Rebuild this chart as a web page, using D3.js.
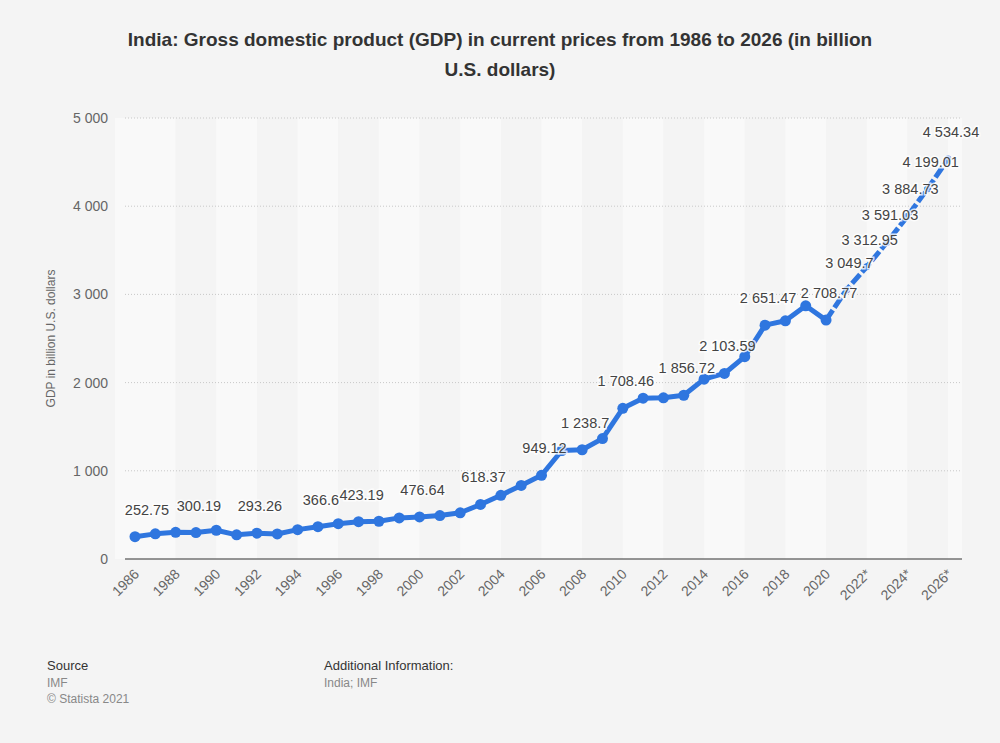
<!DOCTYPE html><html><head><meta charset="utf-8">
<script src="https://cdn.jsdelivr.net/npm/d3@7"></script>
<style>body{margin:0;background:#f4f4f4;font-family:"Liberation Sans",Arial,sans-serif}</style></head><body>
<svg id="c" width="1000" height="743"></svg>
<script>
const years=d3.range(1986,2027);
const yearLabels=years.map(y=>y>=2021?y+"*":""+y);
const values=[252.75,285,303,300.19,326,274,293.26,284,333,366.6,400,423.19,428,466,476.64,493,524,618.37,722,834,949.12,1230,1238.7,1365,1708.46,1823,1828,1856.72,2039,2103.59,2294,2651.47,2701,2871,2708.77,3049.7,3312.95,3591.03,3884.73,4199.01,4534.34];
const labelYears=[1986,1989,1992,1995,1997,2000,2003,2006,2008,2010,2013,2015,2017,2020,2021,2022,2023,2024,2025,2026];
const yTicks=[0,1000,2000,3000,4000,5000];
const svg=d3.select("#c");
const L=115,R=962,T=118,B=559;
const x=d3.scaleLinear().domain([1986,2026]).range([135,948]);
const y=d3.scaleLinear().domain([0,5000]).range([B,T]);
const fmt=v=>d3.format(",")(v).replace(/,/g," ");
const edges=[L].concat(d3.range(1988,2027,2).map(v=>x(v))).concat([R]);
for(let i=0;i<edges.length-1;i++){svg.append("rect").attr("x",edges[i]).attr("y",T).attr("width",edges[i+1]-edges[i]).attr("height",B-T).attr("fill",i%2==0?"#f9f9f9":"#f4f4f4");}
yTicks.forEach(t=>{
 if(t>0)svg.append("line").attr("x1",125).attr("x2",R).attr("y1",y(t)).attr("y2",y(t)).attr("stroke","#c8c8c8").attr("stroke-dasharray","1,2");
 svg.append("text").attr("x",108).attr("y",y(t)+5).attr("text-anchor","end").attr("font-size",14).attr("fill","#666").text(fmt(t));
});
svg.append("line").attr("x1",125).attr("x2",R).attr("y1",B).attr("y2",B).attr("stroke","#333").attr("stroke-width",1.2);
svg.append("text").attr("transform",`translate(55,${(T+B)/2}) rotate(-90)`).attr("text-anchor","middle").attr("font-size",12).attr("fill","#666").text("GDP in billion U.S. dollars");
years.forEach((yr,i)=>{if(i%2==0)svg.append("text").attr("transform",`translate(${x(yr)+5},${B+16}) rotate(-45)`).attr("text-anchor","end").attr("font-size",14).attr("fill","#666").text(yearLabels[i]);});
const data=years.map((yr,i)=>({yr,v:values[i]}));
const line=d3.line().x(d=>x(d.yr)).y(d=>y(d.v));
const hist=data.filter(d=>d.yr<=2020), fc=data.filter(d=>d.yr>=2020);
svg.append("path").attr("d",line(hist)).attr("fill","none").attr("stroke","#2f76df").attr("stroke-width",5).attr("stroke-linejoin","round");
svg.append("path").attr("d",line(fc)).attr("fill","none").attr("stroke","#2f76df").attr("stroke-width",5).attr("stroke-dasharray","12,3");
svg.selectAll("circle").data(hist).enter().append("circle").attr("cx",d=>x(d.yr)).attr("cy",d=>y(d.v)).attr("r",5.5).attr("fill","#2f76df");
svg.selectAll("circle.f").data(fc.slice(1)).enter().append("circle").attr("class","f").attr("cx",d=>x(d.yr)).attr("cy",d=>y(d.v)).attr("r",3.5).attr("fill","#2f76df");
data.filter(d=>labelYears.includes(d.yr)).forEach(d=>{
 svg.append("text").attr("x",x(d.yr)+(d.yr==1986?12:3)).attr("y",y(d.v)-22).attr("text-anchor","middle").attr("font-size",14.5).attr("fill","#444").attr("stroke","#fff").attr("stroke-width",3).attr("stroke-opacity",0.8).attr("paint-order","stroke").text(fmt(d.v));
});
svg.append("text").attr("x",500).attr("y",46).attr("text-anchor","middle").attr("font-size",19).attr("font-weight","bold").attr("fill","#333").text("India: Gross domestic product (GDP) in current prices from 1986 to 2026 (in billion");
svg.append("text").attr("x",500).attr("y",76).attr("text-anchor","middle").attr("font-size",19).attr("font-weight","bold").attr("fill","#333").text("U.S. dollars)");
const ft=(t,xx,yy,s,c)=>svg.append("text").attr("x",xx).attr("y",yy).attr("font-size",s).attr("fill",c).text(t);
ft("Source",47,670,13,"#333");ft("IMF",47,687,12,"#888");ft("© Statista 2021",47,703,12,"#888");
ft("Additional Information:",324,670,13,"#333");ft("India; IMF",324,687,12,"#888");
</script></body></html>
